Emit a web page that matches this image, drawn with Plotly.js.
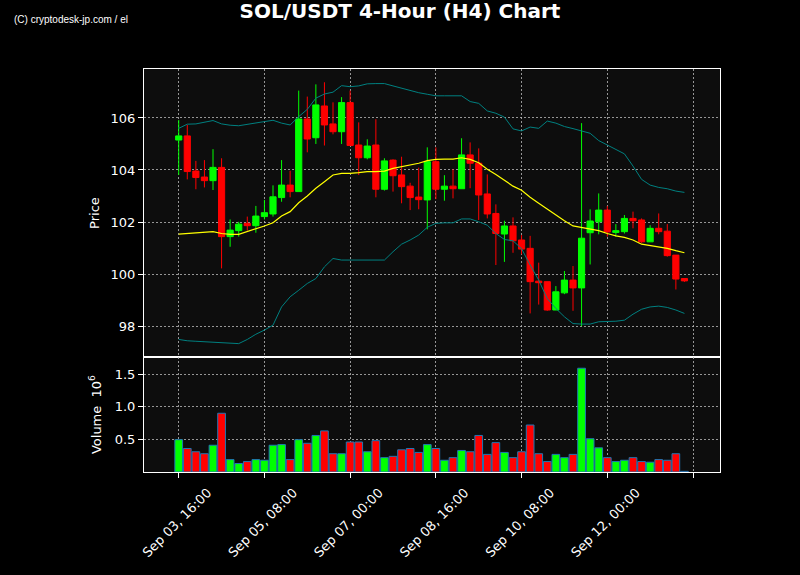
<!DOCTYPE html>
<html>
<head>
<meta charset="utf-8">
<script src="https://cdn.plot.ly/plotly-3.0.1.min.js"></script>
<style>html,body{margin:0;padding:0;background:#000;}#chart{width:800px;height:575px;}</style>
</head>
<body>
<div id="chart"></div>
<script>
// ---- data (4-hour candles, starting Sep 03 16:00) ----
const startTime = '2024-09-03T16:00:00';
const stepHours = 4;
const openVals = [105.15,105.31,103.96,103.73,103.59,104.10,101.44,101.67,101.95,101.86,102.21,102.31,102.94,103.42,103.17,105.96,105.24,106.46,105.77,105.47,
106.59,104.96,104.47,104.96,103.26,104.38,103.81,103.38,102.96,102.85,104.32,103.26,103.38,103.28,104.58,104.26,103.08,102.33,101.54,101.85,
101.31,100.99,99.73,99.71,98.62,99.28,99.77,99.47,101.59,102.01,102.46,101.60,101.63,102.14,102.08,101.24,101.76,101.65,100.73,99.83];
const highVals = [105.92,105.73,104.35,104.38,104.80,104.45,102.10,102.01,102.21,102.62,102.85,103.41,104.38,103.97,107.05,106.82,107.29,107.37,106.60,106.80,
107.05,105.83,105.18,105.95,104.45,104.41,104.51,103.51,104.09,104.87,104.87,103.80,104.03,105.22,105.06,104.83,103.83,102.68,102.05,102.18,
101.50,101.47,100.44,99.71,99.54,100.12,100.31,105.80,102.49,103.10,102.62,101.92,102.27,102.40,102.14,101.88,102.33,101.92,100.73,99.83];
const lowVals = [103.81,103.64,103.26,103.33,103.23,100.22,101.05,101.44,101.67,101.59,102.10,102.21,102.78,102.95,103.17,104.68,105.00,104.94,105.37,105.00,
104.94,103.81,104.41,102.95,103.21,103.17,102.72,102.46,102.49,101.72,102.88,102.82,102.91,103.28,103.30,102.08,102.14,100.35,100.47,100.82,
100.76,98.49,98.83,98.59,98.62,99.23,98.59,98.00,100.37,101.53,101.44,101.44,101.56,101.76,101.20,101.24,101.53,100.67,99.41,99.70];
const closeVals = [105.31,103.94,103.71,103.59,104.10,101.44,101.69,101.92,101.86,102.23,102.36,102.97,103.42,103.17,105.96,105.19,106.50,105.73,105.47,106.59,
104.94,104.47,104.92,103.26,104.35,103.78,103.36,102.94,102.86,104.32,103.26,103.38,103.28,104.58,104.26,103.04,102.31,101.56,101.85,101.28,
100.96,99.71,99.67,98.62,99.32,99.77,99.47,101.38,102.04,102.46,101.62,101.67,102.14,102.05,101.24,101.76,101.63,100.71,99.81,99.74];
const volumeMillions = [0.495,0.36,0.31,0.28,0.41,0.90,0.19,0.13,0.16,0.19,0.18,0.41,0.42,0.19,0.495,0.44,0.56,0.63,0.28,0.28,
0.46,0.46,0.31,0.48,0.22,0.24,0.34,0.36,0.30,0.42,0.36,0.18,0.22,0.33,0.31,0.56,0.27,0.45,0.30,0.22,
0.31,0.72,0.28,0.16,0.27,0.22,0.27,1.59,0.51,0.37,0.22,0.16,0.18,0.22,0.16,0.15,0.19,0.18,0.28,0.01];
const bbMid = [101.54,101.56,101.58,101.59,101.63,101.56,101.53,101.53,101.63,101.76,101.85,101.97,102.23,102.40,102.74,103.00,103.30,103.55,103.81,103.87,
103.87,103.90,103.94,103.94,103.96,104.06,104.13,104.18,104.26,104.36,104.41,104.42,104.42,104.47,104.41,104.28,104.03,103.83,103.61,103.38,
103.22,102.95,102.72,102.49,102.27,102.05,101.85,101.79,101.74,101.67,101.56,101.47,101.41,101.31,101.15,101.09,101.05,100.99,100.90,100.82];
const bbUpper = [105.60,105.76,105.77,105.83,105.90,105.77,105.72,105.70,105.76,105.80,105.86,105.91,105.80,105.73,106.05,106.33,106.76,106.92,106.99,107.24,
107.20,107.23,107.31,107.32,107.32,107.23,107.14,107.05,106.97,106.91,106.85,106.85,106.85,106.85,106.63,106.56,106.27,106.18,106.03,105.58,
105.50,105.65,105.60,105.88,105.80,105.67,105.59,105.50,105.41,105.13,104.96,104.77,104.62,104.15,103.64,103.42,103.33,103.28,103.19,103.14];
const bbLower = [97.49,97.44,97.42,97.40,97.37,97.36,97.33,97.33,97.49,97.69,97.85,98.04,98.74,99.13,99.38,99.64,99.83,100.28,100.60,100.54,
100.54,100.54,100.56,100.54,100.54,100.86,101.15,101.31,101.50,101.80,101.95,101.97,101.97,102.12,102.12,102.01,101.88,101.56,101.33,101.28,
100.98,100.35,99.77,99.06,98.68,98.36,98.10,98.08,98.08,98.17,98.17,98.19,98.23,98.46,98.65,98.74,98.77,98.72,98.62,98.49];
const tickTimes = ['2024-09-03T16:00:00','2024-09-05T08:00:00','2024-09-07T00:00:00','2024-09-08T16:00:00','2024-09-10T08:00:00','2024-09-12T00:00:00','2024-09-13T16:00:00'];
const tickLabels = ['Sep 03, 16:00','Sep 05, 08:00','Sep 07, 00:00','Sep 08, 16:00','Sep 10, 08:00','Sep 12, 00:00',''];
const priceTicks = [98,100,102,104,106];
const volumeTicks = [0.5,1.0,1.5];

// ---- build ----
function fmt(d){
  const p=n=>String(n).padStart(2,'0');
  return d.getUTCFullYear()+'-'+p(d.getUTCMonth()+1)+'-'+p(d.getUTCDate())+' '+p(d.getUTCHours())+':'+p(d.getUTCMinutes());
}
const t0 = new Date(startTime+'Z').getTime();
const times = openVals.map((_,i)=>fmt(new Date(t0 + i*stepHours*3600e3)));
const GREEN='#00ff00', RED='#ff0000';
const volColors = openVals.map((o,i)=> closeVals[i]>=o ? GREEN : RED);

const font = 'DejaVu Sans, sans-serif';
const gridColor = 'rgba(185,185,185,0.8)';
const gridDash = '2px,2px';

const traces = [
  {type:'scatter', mode:'lines', x:times, y:bbUpper, line:{color:'#008080', width:1}, xaxis:'x', yaxis:'y', hoverinfo:'skip'},
  {type:'scatter', mode:'lines', x:times, y:bbLower, line:{color:'#008080', width:1}, xaxis:'x', yaxis:'y', hoverinfo:'skip'},
  {type:'scatter', mode:'lines', x:times, y:bbMid, line:{color:'#ffff00', width:1.2}, xaxis:'x', yaxis:'y', hoverinfo:'skip'},
  {type:'candlestick', x:times, open:openVals, high:highVals, low:lowVals, close:closeVals, xaxis:'x', yaxis:'y',
   increasing:{line:{color:GREEN, width:1}, fillcolor:GREEN},
   decreasing:{line:{color:RED, width:1}, fillcolor:RED}, whiskerwidth:0},
  {type:'bar', x:times, y:volumeMillions, xaxis:'x2', yaxis:'y2', width:0.9*stepHours*3600e3,
   marker:{color:volColors, line:{color:'#1f77b4', width:1}}}
];

const xRange = ['2024-09-02 23:48','2024-09-14 04:36'];
const commonX = {
  type:'date', range:xRange, showgrid:true, gridcolor:gridColor, griddash:gridDash, gridwidth:1,
  tickmode:'array', tickvals:tickTimes.map(s=>s.replace('T',' ')),
  showline:true, linecolor:'#ffffff', linewidth:1, mirror:true, zeroline:false,
  tickfont:{family:font, size:13, color:'#ffffff'}, tickcolor:'#ffffff'
};

const layout = {
  width:800, height:575,
  paper_bgcolor:'#000000', plot_bgcolor:'#0d0d0d',
  showlegend:false,
  margin:{l:144, r:80, t:69, b:103},
  boxgap:0.28, boxgroupgap:0,
  title:{text:'<b>SOL/USDT 4-Hour (H4) Chart</b>', x:0.5, xanchor:'center', y:0.981, yanchor:'middle',
         font:{family:font, size:20, color:'#ffffff'}},
  xaxis: Object.assign({}, commonX, {anchor:'y', showticklabels:false, ticks:'', rangeslider:{visible:false}, matches:'x2'}),
  xaxis2: Object.assign({}, commonX, {anchor:'y2', ticktext:tickLabels, ticks:'outside', ticklen:5, tickangle:-45,
          ticklabelshift:29, ticklabelstandoff:2, rangeslider:{visible:false}}),
  yaxis: {domain:[0.285,1], range:[96.81,107.88], tickmode:'array', tickvals:priceTicks,
          showgrid:true, gridcolor:gridColor, griddash:gridDash, zeroline:false,
          showline:true, linecolor:'#ffffff', linewidth:1, mirror:true,
          ticks:'outside', ticklen:5, tickcolor:'#ffffff',
          tickfont:{family:font, size:13, color:'#ffffff'},
          title:{text:'Price', font:{family:font, size:13, color:'#ffffff'}, standoff:8}},
  yaxis2:{domain:[0,0.285], range:[0,1.76], tickmode:'array', tickvals:volumeTicks, ticktext:['0.5','1.0','1.5'],
          showgrid:true, gridcolor:gridColor, griddash:gridDash, zeroline:false,
          showline:true, linecolor:'#ffffff', linewidth:1, mirror:true,
          ticks:'outside', ticklen:5, tickcolor:'#ffffff',
          tickfont:{family:font, size:13, color:'#ffffff'},
          title:{text:'Volume  10<sup>6</sup>', font:{family:font, size:13, color:'#ffffff'}, standoff:10}},
  annotations:[
    {text:'(C) cryptodesk-jp.com / el', xref:'paper', yref:'paper', x:-0.229, y:1.122, xanchor:'left', yanchor:'middle',
     showarrow:false, font:{family:'Liberation Sans Narrow, Liberation Sans, sans-serif', size:10, color:'#ffffff'}}
  ],
  bargap:0
};

Plotly.newPlot('chart', traces, layout, {staticPlot:true, displayModeBar:false});
</script>
</body>
</html>
